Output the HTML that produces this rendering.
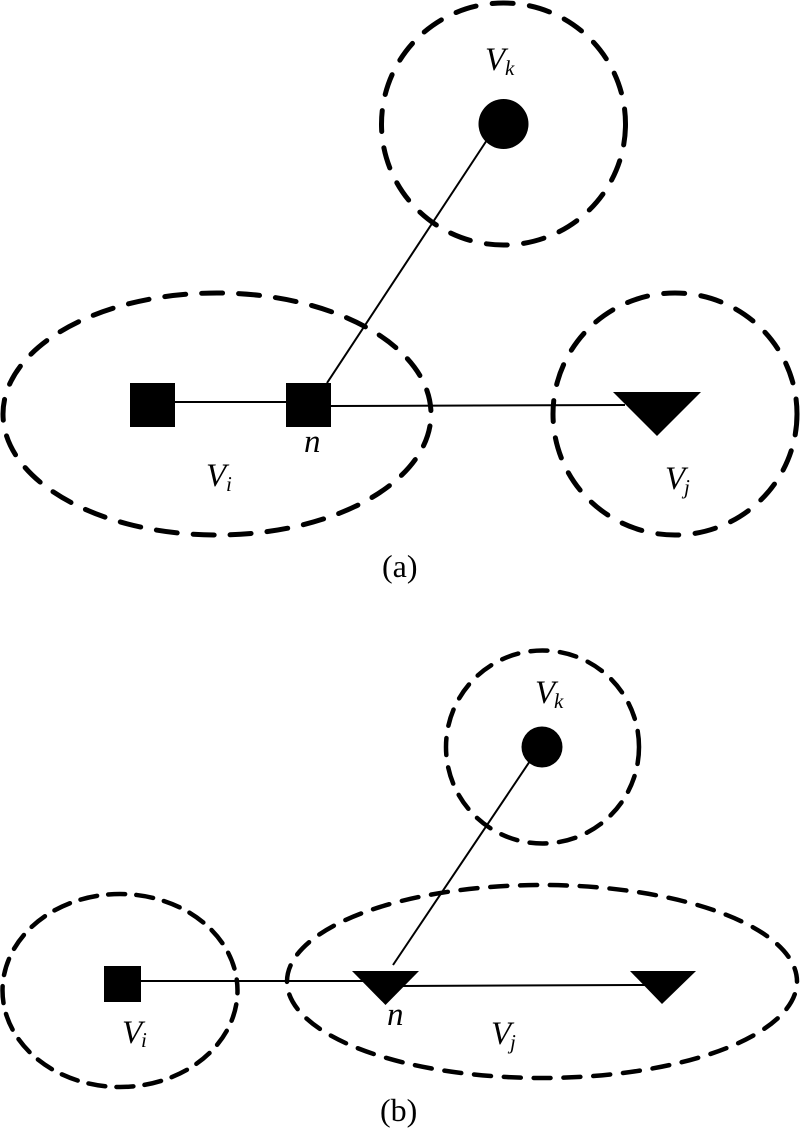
<!DOCTYPE html>
<html>
<head>
<meta charset="utf-8">
<style>
html,body{margin:0;padding:0;background:#fff;}
svg{display:block;}
text{font-family:"Liberation Serif",serif;fill:#000;}
.it{font-style:italic;}
.s{font-size:21px;}
</style>
</head>
<body>
<svg width="800" height="1132" viewBox="0 0 800 1132" xmlns="http://www.w3.org/2000/svg">
<g fill="none" stroke="#000" stroke-width="5" stroke-linecap="round">
  <ellipse cx="503.500" cy="124" rx="122" ry="121" stroke-dasharray="21 16.400"/>
  <ellipse cx="217" cy="414" rx="214" ry="121" stroke-dasharray="21 16" stroke-dashoffset="-12"/>
  <ellipse cx="675" cy="414" rx="122" ry="121" stroke-dasharray="21 16.400"/>
</g>
<g fill="none" stroke="#000" stroke-width="4.500" stroke-linecap="round">
  <ellipse cx="542.500" cy="747" rx="96.500" ry="96.500" stroke-dasharray="17 12.500"/>
  <ellipse cx="120" cy="990.500" rx="117.500" ry="96.500" stroke-dasharray="17 11.200" stroke-dashoffset="-14"/>
  <ellipse cx="542" cy="981.500" rx="255" ry="96.500" stroke-dasharray="17 12.850" stroke-dashoffset="-13"/>
</g>
<g fill="none" stroke="#000" stroke-width="2">
  <line x1="327" y1="383" x2="487" y2="140"/>
  <line x1="175" y1="402" x2="287" y2="402"/>
  <line x1="330" y1="406" x2="625" y2="405"/>
  <line x1="140" y1="981" x2="365" y2="981"/>
  <line x1="393" y1="965" x2="530" y2="761"/>
  <line x1="400" y1="986" x2="645" y2="985"/>
</g>
<g fill="#000">
  <circle cx="503.500" cy="124" r="25"/>
  <rect x="130" y="383" width="45" height="44"/>
  <rect x="286" y="383" width="45" height="44"/>
  <polygon points="613,392 701,392 657,436"/>
  <circle cx="542" cy="747" r="20.500"/>
  <rect x="104" y="966" width="37" height="36"/>
  <polygon points="352,971 419,971 385.500,1005"/>
  <polygon points="630,971 696,971 662,1004"/>
</g>
<g font-size="33">
  <text class="it" x="485" y="70">V</text>
  <text class="it s" x="505" y="75">k</text>
  <text class="it" x="206" y="486">V</text>
  <text class="it s" x="226" y="491">i</text>
  <text class="it" x="304" y="452">n</text>
  <text class="it" x="665" y="489">V</text>
  <text class="it s" x="684" y="494">j</text>
  <text x="382" y="577" font-size="32">(a)</text>
  <text class="it" x="535" y="703">V</text>
  <text class="it s" x="554" y="708">k</text>
  <text class="it" x="122" y="1043">V</text>
  <text class="it s" x="141" y="1047">i</text>
  <text class="it" x="387" y="1025">n</text>
  <text class="it" x="491" y="1044">V</text>
  <text class="it s" x="510" y="1049">j</text>
  <text x="380" y="1121" font-size="32">(b)</text>
</g>
</svg>
</body>
</html>
